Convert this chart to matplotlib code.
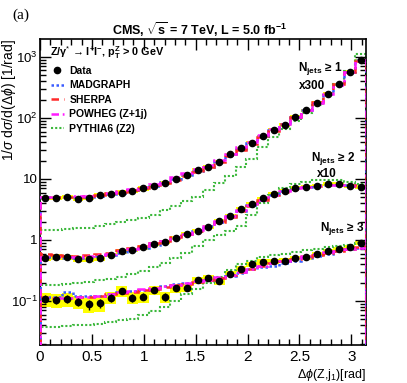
import numpy as np
import matplotlib
matplotlib.use("Agg")
import matplotlib.pyplot as plt
from matplotlib.lines import Line2D
from matplotlib.ticker import FixedLocator, LogLocator, MultipleLocator, NullFormatter

plt.rcParams['font.family'] = ['Liberation Sans', 'DejaVu Sans']
plt.rcParams['mathtext.fontset'] = 'custom'
plt.rcParams['mathtext.rm'] = 'Liberation Sans'
plt.rcParams['mathtext.it'] = 'Liberation Sans:italic'
plt.rcParams['mathtext.bf'] = 'Liberation Sans:bold'

# 30 bins in delta phi from 0 to pi
nbins = 30

# Njets >= 1 (scaled x300)
data1 = [4.9, 4.9, 5.1, 4.7, 4.9, 5.5, 5.7, 6.0, 6.4, 7.0, 7.8, 8.7, 10.0, 11.8, 14.0,
         15.9, 19.2, 25.4, 31.9, 39.4, 50, 64, 77, 104, 134, 176, 247, 357, 568, 883]
mg1 = [5.0, 5.0, 5.0, 5.0, 5.1, 5.3, 5.6, 6.0, 6.5, 7.1, 7.8, 8.8, 9.9, 11.5, 13.6,
       16.0, 19.5, 24.5, 31, 39, 50, 63, 79, 102, 135, 178, 250, 360, 570, 880]
sherpa1 = [5.1, 5.0, 5.0, 5.1, 5.2, 5.4, 5.8, 6.1, 6.6, 7.2, 7.9, 8.7, 9.8, 11.3, 13.2,
           15.5, 19.0, 23.5, 29.5, 37.5, 48, 62, 79, 103, 136, 180, 252, 362, 570, 875]
powheg1 = [5.0, 5.0, 5.1, 5.2, 5.3, 5.5, 5.9, 6.3, 6.8, 7.5, 8.4, 9.4, 10.6, 12.4, 14.6,
           17.2, 20.8, 26, 33, 41, 52, 66, 81, 104, 134, 174, 245, 352, 560, 880]
pythia1 = [1.45, 1.45, 1.5, 1.55, 1.6, 1.7, 1.8, 1.95, 2.1, 2.3, 2.6, 3.1, 3.6, 4.3, 5.1,
           6.6, 8.6, 11, 16, 21, 33, 48, 66, 90, 120, 165, 240, 360, 580, 1100]
band1 = [0.09, 0.09, 0.09, 0.09, 0.09, 0.09, 0.08, 0.08, 0.08, 0.08, 0.07, 0.07, 0.07, 0.07, 0.07,
         0.06, 0.06, 0.06, 0.06, 0.06, 0.06, 0.06, 0.06, 0.06, 0.06, 0.06, 0.06, 0.06, 0.06, 0.06]

# Njets >= 2 (scaled x10)
data2 = [0.50, 0.53, 0.52, 0.49, 0.49, 0.50, 0.57, 0.65, 0.69, 0.76, 0.86, 0.92, 1.09, 1.24, 1.40,
         1.65, 2.07, 2.5, 3.2, 3.9, 4.8, 5.7, 6.4, 7.1, 7.5, 7.7, 8.2, 8.2, 7.7, 7.4]
mg2 = [0.52, 0.51, 0.51, 0.51, 0.52, 0.54, 0.57, 0.62, 0.68, 0.75, 0.84, 0.95, 1.08, 1.24, 1.43,
       1.68, 2.0, 2.45, 3.0, 3.7, 4.6, 5.5, 6.3, 7.0, 7.5, 7.9, 8.1, 8.1, 7.9, 7.6]
sherpa2 = [0.58, 0.56, 0.55, 0.55, 0.56, 0.58, 0.62, 0.68, 0.74, 0.8, 0.89, 0.98, 1.1, 1.25, 1.42,
           1.65, 1.97, 2.4, 2.95, 3.65, 4.5, 5.4, 6.2, 6.9, 7.4, 7.8, 8.0, 8.1, 7.9, 7.6]
powheg2 = [0.52, 0.52, 0.52, 0.53, 0.54, 0.56, 0.6, 0.65, 0.71, 0.79, 0.88, 0.98, 1.1, 1.27, 1.47,
           1.72, 2.05, 2.5, 3.05, 3.75, 4.6, 5.5, 6.3, 7.0, 7.5, 7.8, 8.0, 8.0, 7.8, 7.5]
pythia2 = [0.185, 0.185, 0.19, 0.2, 0.205, 0.22, 0.23, 0.25, 0.28, 0.31, 0.36, 0.42, 0.5, 0.62, 0.8,
           1.0, 1.2, 1.4, 1.7, 2.6, 4.0, 5.5, 7.2, 8.3, 9.0, 9.5, 9.6, 9.5, 9.0, 8.2]
band2 = [0.10, 0.10, 0.10, 0.10, 0.10, 0.10, 0.09, 0.09, 0.09, 0.09, 0.08, 0.08, 0.08, 0.08, 0.07,
         0.07, 0.07, 0.07, 0.07, 0.07, 0.07, 0.07, 0.07, 0.07, 0.07, 0.07, 0.07, 0.07, 0.07, 0.07]

# Njets >= 3
data3 = [0.108, 0.104, 0.108, 0.097, 0.088, 0.092, 0.113, 0.148, 0.113, 0.118, 0.151, 0.118, 0.162, 0.165, 0.221,
         0.236, 0.213, 0.277, 0.335, 0.40, 0.44, 0.45, 0.46, 0.507, 0.52, 0.58, 0.66, 0.72, 0.78, 0.90]
mg3 = [0.118, 0.118, 0.139, 0.122, 0.122, 0.122, 0.128, 0.14, 0.145, 0.15, 0.16, 0.175, 0.19, 0.2, 0.21,
       0.225, 0.24, 0.26, 0.29, 0.33, 0.36, 0.38, 0.42, 0.46, 0.5, 0.55, 0.6, 0.66, 0.7, 0.74]
sherpa3 = [0.115, 0.112, 0.112, 0.115, 0.118, 0.122, 0.128, 0.135, 0.142, 0.15, 0.16, 0.17, 0.18, 0.19, 0.205,
           0.22, 0.24, 0.265, 0.3, 0.34, 0.38, 0.42, 0.45, 0.49, 0.53, 0.57, 0.62, 0.67, 0.72, 0.76]
powheg3 = [0.11, 0.11, 0.112, 0.115, 0.118, 0.122, 0.13, 0.138, 0.146, 0.155, 0.165, 0.175, 0.185, 0.195, 0.21,
           0.225, 0.245, 0.27, 0.3, 0.34, 0.38, 0.42, 0.46, 0.5, 0.54, 0.58, 0.63, 0.67, 0.71, 0.74]
pythia3 = [0.038, 0.038, 0.039, 0.04, 0.041, 0.042, 0.046, 0.048, 0.05, 0.058, 0.068, 0.08, 0.1, 0.13, 0.16,
           0.2, 0.25, 0.32, 0.4, 0.46, 0.52, 0.56, 0.6, 0.64, 0.68, 0.72, 0.76, 0.8, 0.84, 0.88]
band3 = [0.25, 0.25, 0.25, 0.25, 0.27, 0.27, 0.22, 0.2, 0.22, 0.2, 0.18, 0.2, 0.16, 0.16, 0.14,
         0.14, 0.14, 0.12, 0.12, 0.11, 0.1, 0.1, 0.1, 0.09, 0.09, 0.09, 0.08, 0.08, 0.08, 0.08]
stat3 = [0.15, 0.15, 0.15, 0.16, 0.18, 0.18, 0.14, 0.12, 0.14, 0.13, 0.12, 0.14, 0.1, 0.1, 0.08,
         0.08, 0.08, 0.07, 0.06, 0.06, 0.05, 0.05, 0.05, 0.05, 0.05, 0.05, 0.04, 0.04, 0.04, 0.04]

edges = np.linspace(0, np.pi, nbins + 1)
centers = 0.5 * (edges[:-1] + edges[1:])
width = edges[1] - edges[0]

c_mg = '#3a5cff'
c_sh = '#ff2a2a'
c_pw = '#ff1aff'
c_py = '#3cb83c'

fig = plt.figure(figsize=(4.07, 3.83), dpi=100)
ax = fig.add_axes([40/407, 38/383, 326/407, 306/383])

groups = [
    (data1, mg1, sherpa1, powheg1, pythia1, band1, None),
    (data2, mg2, sherpa2, powheg2, pythia2, band2, None),
    (data3, mg3, sherpa3, powheg3, pythia3, band3, stat3),
]
for d, mg, sh, pw, py, band, stat in groups:
    d = np.array(d)
    err = d * np.array(band)
    ax.bar(centers, 2 * err, bottom=d - err, width=width, color='#ffff00', lw=0, zorder=1)
    ax.stairs(py, edges, color=c_py, ls=(0, (1, 1)), lw=1.5, zorder=2)
    ax.stairs(mg, edges, color=c_mg, ls=(0, (1, 1)), lw=1.8, zorder=3)
    ax.stairs(sh, edges, color=c_sh, ls=(0, (3, 2)), lw=1.8, zorder=3)
    ax.stairs(pw, edges, color=c_pw, ls=(0, (3, 1.5, 1, 1.5)), lw=1.8, zorder=3)
    if stat is not None:
        ax.errorbar(centers, d, yerr=d * np.array(stat), fmt='none', ecolor='k', lw=1, zorder=4)
    ax.plot(centers, d, 'o', color='k', ms=4.5, zorder=5)

ax.set_yscale('log')
ax.set_xlim(0, np.pi)
ax.set_ylim(0.019, 1970)

ax.xaxis.set_major_locator(FixedLocator([0, 0.5, 1, 1.5, 2, 2.5, 3]))
ax.xaxis.set_minor_locator(MultipleLocator(0.1))
ax.set_xticklabels(['0', '0.5', '1', '1.5', '2', '2.5', '3'])
ax.yaxis.set_major_locator(FixedLocator([0.1, 1, 10, 100, 1000]))
ax.set_yticklabels([r'$10^{-1}$', '1', '10', r'$10^{2}$', r'$10^{3}$'])
ax.yaxis.set_minor_locator(LogLocator(base=10, subs=np.arange(2, 10)))
ax.yaxis.set_minor_formatter(NullFormatter())
ax.tick_params(which='both', direction='in', top=True, right=True, width=1)
ax.tick_params(axis='x', labelsize=11)
ax.tick_params(axis='y', labelsize=9.5, pad=1.5)
ax.tick_params(which='major', length=8)
ax.tick_params(which='minor', length=4)
for s in ax.spines.values():
    s.set_linewidth(1.2)

ax.set_xlabel(r'$\Delta\phi$(Z,j$_1$)[rad]', fontsize=9, loc='right', labelpad=2)
fig.text(0.021, 0.898, r'1/$\sigma$ d$\sigma$/d($\Delta\phi$) [1/rad]', rotation=90,
         ha='center', va='top', fontsize=10)

fig.text(0.03, 0.96, '(a)', family='Liberation Serif', fontsize=11, va='center')
fig.text(0.49, 0.922, r'CMS, $\sqrt{\mathbf{s}}$ = 7 TeV, L = 5.0 fb$^{\mathbf{-1}}$',
         ha='center', va='center', fontsize=9, fontweight='bold')
ax.text(0.03, 0.955, r'Z/$\mathbf{\gamma}^{*}$ → l$^{\mathbf{+}}$l$^{\mathbf{-}}$, p$_{\mathbf{T}}^{\mathbf{Z}}$ > 0 GeV',
        transform=ax.transAxes, fontsize=7.8, fontweight='bold', va='center')

ax.text(0.79, 0.905, r'N$_{\mathbf{jets}}$ ≥ 1', transform=ax.transAxes, fontsize=8.5, fontweight='bold', ha='left', va='center')
ax.text(0.795, 0.845, 'x300', transform=ax.transAxes, fontsize=8.5, fontweight='bold', ha='left', va='center')
ax.text(0.83, 0.61, r'N$_{\mathbf{jets}}$ ≥ 2', transform=ax.transAxes, fontsize=8.5, fontweight='bold', ha='left', va='center')
ax.text(0.85, 0.56, 'x10', transform=ax.transAxes, fontsize=8.5, fontweight='bold', ha='left', va='center')
ax.text(0.86, 0.38, r'N$_{\mathbf{jets}}$ ≥ 3', transform=ax.transAxes, fontsize=8.5, fontweight='bold', ha='left', va='center')

handles = [
    Line2D([], [], color='k', marker='o', ls='none', ms=4.5),
    Line2D([], [], color=c_mg, ls=(0, (1, 1)), lw=1.8),
    Line2D([], [], color=c_sh, ls=(0, (3, 2)), lw=1.8),
    Line2D([], [], color=c_pw, ls=(0, (3, 1.5, 1, 1.5)), lw=1.8),
    Line2D([], [], color=c_py, ls=(0, (1, 1)), lw=1.5),
]
labels = ['Data', 'MADGRAPH', 'SHERPA', 'POWHEG (Z+1j)', 'PYTHIA6 (Z2)']
leg = ax.legend(handles, labels, loc='upper left', bbox_to_anchor=(0.02, 0.925), frameon=False,
                prop={'weight': 'bold', 'size': 7.5}, handlelength=1.3, handletextpad=0.5,
                labelspacing=0.42, borderaxespad=0)

fig.savefig('out.png', dpi=100)
